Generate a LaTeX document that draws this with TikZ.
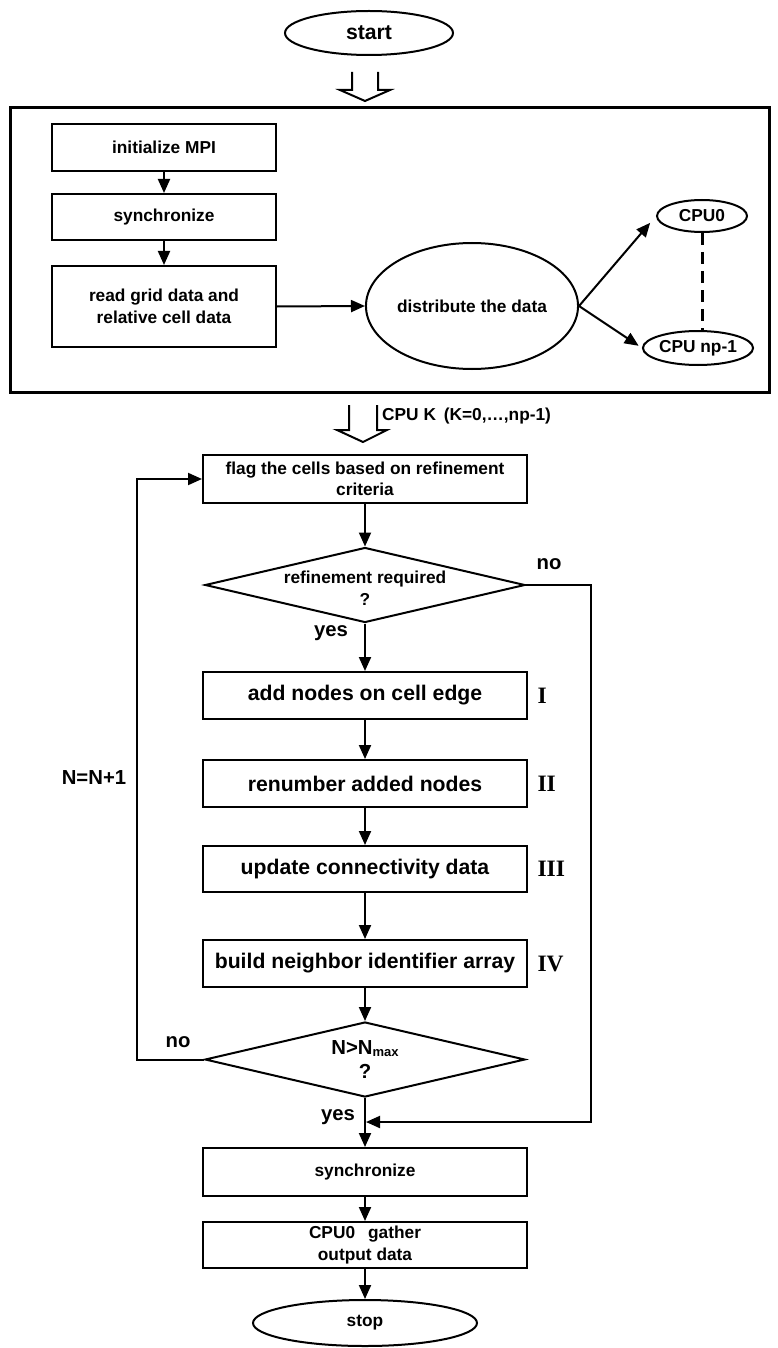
\documentclass[tikz,border=0pt]{standalone}
\usepackage{fontspec}
\setmainfont{Liberation Sans}
\newfontfamily\romanfont{Liberation Serif}
\usetikzlibrary{shapes.geometric,arrows.meta,calc}

\begin{document}
\begin{tikzpicture}[x=1pt,y=-1pt,
  every node/.style={font=\bfseries},
  small/.style={font=\bfseries\fontsize{17.3}{21.5}\selectfont},
  large/.style={font=\bfseries\fontsize{21.2}{25}\selectfont},
  lbl/.style={font=\bfseries\fontsize{20.3}{24}\selectfont},
  proc/.style={draw, line width=2pt, minimum width=324pt, inner sep=0pt, align=center},
  term/.style={draw, ellipse, line width=2pt, inner sep=0pt, align=center},
  dec/.style={draw, diamond, line width=2pt, minimum width=320pt, minimum height=75pt, inner sep=0pt},
  flow/.style={line width=2pt, -{Triangle[length=14pt,width=12pt]}},
  link/.style={line width=2pt},
  hollow/.style={line width=2pt, line join=miter},
  numeral/.style={font=\romanfont\bfseries\fontsize{23.5}{27}\selectfont, anchor=west},
]
\useasboundingbox (0,0) rectangle (777,1348);

% start and hollow arrow into the setup frame
\node[term, large, minimum width=168pt, minimum height=44pt] (start) at (369,33) {start};
\coordinate (h1) at (365,90);
\draw[hollow] ($(h1)+(-13,-18)$) -- ($(h1)+(-13,0)$) -- ($(h1)+(-25,0)$) -- ($(h1)+(0,11)$)
  -- ($(h1)+(25,0)$) -- ($(h1)+(13,0)$) -- ($(h1)+(13,-18)$);

% setup frame
\node[draw, line width=3pt, minimum width=759pt, minimum height=284pt, inner sep=0pt] (frame) at (389.5,250) {};

\node[proc, small, minimum width=224pt, minimum height=47pt] (init) at (164,147.5) {initialize MPI};
\node[proc, small, minimum width=224pt, minimum height=46pt] (sync1) at (164,217) {synchronize};
\node[proc, small, minimum width=224pt, minimum height=81pt] (read) at (164,306.5) {read grid data and\\relative cell data};
\node[term, small, minimum width=171pt, minimum height=126pt] (dist) at (472,306) {distribute the data};
\node[term, small, minimum width=90pt, minimum height=32pt] (cpu0) at (702,216) {CPU0};
\node[term, small, minimum width=100pt, minimum height=34pt] (cpunp) at (698,348) {CPU np-1};

\draw[flow] (init) -- (sync1);
\draw[flow] (sync1) -- (read);
\draw[flow] (read.east) -- (dist.west);
\draw[flow, shorten >=9pt] (dist.east) -- (cpu0.west);
\draw[flow, shorten >=4pt] (dist.east) -- (cpunp.west);
\draw[link, line width=3pt, dash pattern=on 12pt off 7pt] (cpu0.south) -- (cpunp.north -| cpu0.south);

% hollow arrow towards the per-CPU loop
\coordinate (h2) at (363,430);
\draw[hollow] ($(h2)+(-14,-25)$) -- ($(h2)+(-14,0)$) -- ($(h2)+(-26,0)$) -- ($(h2)+(0,12)$)
  -- ($(h2)+(24,0)$) -- ($(h2)+(14,0)$) -- ($(h2)+(14,-25)$);
\node[small, anchor=west, inner sep=0pt] (cpuk) at (382,416) {CPU K\hspace{0.45em}(K=0,\ldots,np-1)};

% refinement loop
\node[proc, small, minimum height=48pt] (flag) at (365,479) {flag the cells based on refinement\\criteria};
\node[dec] (d1) at (365,585) {};
\node[small, align=center] (d1t) at (365,588) {refinement required\\?};
\node[proc, large, minimum height=47pt] (add) at (365,695.5) {add nodes on cell edge};
\node[proc, large, minimum height=47pt] (renum) at (365,783.5) {renumber added nodes};
\node[proc, large, minimum height=46pt] (update) at (365,869) {update connectivity data};
\node[proc, large, minimum height=47pt] (build) at (365,963.5) {build neighbor identifier array};
\node[dec] (d2) at (365,1059.5) {};
\node[lbl, align=center] (d2t) at (365,1060) {N>N\raisebox{-1.5pt}{\fontsize{13}{13}\selectfont max}\\?};

\node[numeral] (n1) at ([xshift=6pt]add.east) {I};
\node[numeral] (n2) at ([xshift=6pt]renum.east) {II};
\node[numeral] (n3) at ([xshift=6pt]update.east) {III};
\node[numeral] (n4) at ([xshift=6pt]build.east) {IV};

% final steps
\node[proc, small, minimum height=48pt] (sync2) at (365,1172) {synchronize};
\node[proc, small, minimum height=46pt] (gather) at (365,1245) {CPU0\hspace{0.75em}gather\\output data};
\node[term, small, minimum width=224pt, minimum height=46pt] (stop) at (365,1323) {stop};

\draw[flow] (flag) -- (d1);
\draw[flow] (d1) -- (add);
\draw[flow] (add) -- (renum);
\draw[flow] (renum) -- (update);
\draw[flow] (update) -- (build);
\draw[flow] (build) -- (d2);
\draw[flow] (d2) -- (sync2);
\draw[flow] (sync2) -- (gather);
\draw[flow] (gather) -- (stop);

% "no" branch of the refinement test joins above the final synchronize
\coordinate (rr) at (591,1122);
\coordinate (jn) at (365,1122);
\draw[flow, shorten >=1pt] (d1.east) -| (rr) -- (jn);

% loop back to flagging
\coordinate (loopx) at (137,780);
\draw[flow] (d2.west) -- (d2.west -| loopx) |- (flag.west);

\node[lbl] (no1) at (549,564) {no};
\node[lbl] (yes1) at (331,633) {yes};
\node[lbl] (no2) at (178,1042) {no};
\node[lbl] (yes2) at (338,1117) {yes};
\node[lbl] (inc) at (94,778) {N=N+1};
\end{tikzpicture}
\end{document}
